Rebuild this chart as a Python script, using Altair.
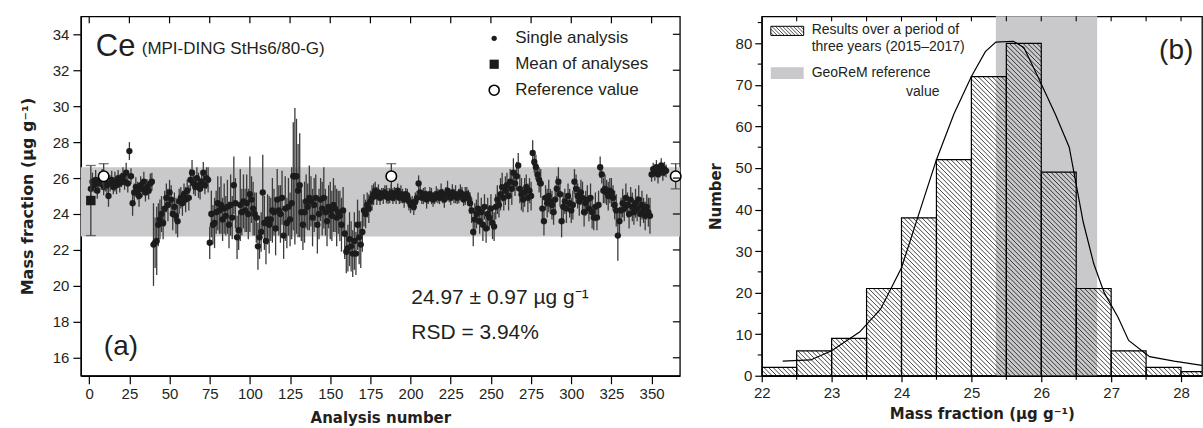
import altair as alt
import pandas as pd
import numpy as np

# ---------------- Panel (a): Ce in MPI-DING StHs6/80-G ----------------
analysis_values = [
    25.4, 25.8, 25.6, 25.9, 25.3, 25.7, 25.9, 26.0, 25.5, 25.8,
    25.6, 25.0, 25.7, 25.9, 25.5, 25.8, 25.6, 26.0, 25.7, 25.9,
    26.1, 25.8, 26.3, 25.7, 27.5, 26.1, 24.6, 25.2, 25.5, 25.3,
    25.0, 25.6, 25.4, 25.8, 25.2, 25.5, 25.3, 25.7, 25.8, 22.3,
    22.4, 22.5, 23.4, 23.7, 24.0, 23.5, 24.3, 24.9, 24.5, 25.2,
    24.8, 24.0, 24.4, 23.9, 23.6, 24.7, 24.9, 24.6, 25.1, 24.8,
    25.3, 24.9, 25.9, 26.3, 25.7, 25.5, 26.0, 25.6, 25.4, 25.8,
    26.3, 25.6, 26.0, 25.9, 22.4, 24.0, 23.4, 23.5, 24.1, 24.6,
    24.2, 24.5, 23.7, 24.3, 23.9, 24.4, 23.4, 24.5, 23.8, 25.6,
    24.6, 22.7, 23.1, 24.5, 24.1, 24.7, 24.2, 24.6, 24.0, 25.1,
    24.8, 24.3, 24.0, 23.8, 22.2, 22.7, 23.0, 25.2, 23.5, 22.5,
    23.7, 23.4, 23.7, 24.2, 24.1, 23.2, 24.8, 24.2, 24.0, 24.9,
    22.8, 24.3, 23.5, 24.4, 23.7, 24.6, 26.1, 26.1, 26.1, 25.3,
    25.6, 24.1, 23.4, 24.1, 24.7, 24.4, 24.9, 24.7, 23.8, 24.5,
    24.9, 23.4, 24.0, 24.8, 24.3, 24.9, 24.1, 23.6, 24.4, 24.2,
    23.9, 24.5, 24.3, 23.8, 24.1, 23.9, 23.4, 24.2, 22.9, 21.9,
    22.1, 22.6, 22.2, 21.8, 22.5, 21.8, 23.4, 22.7, 22.3, 23.0,
    24.2, 24.0, 24.5, 24.3, 24.7, 24.9, 25.1, 25.3, 25.0, 25.2,
    24.9, 25.1, 25.0, 25.2, 25.1, 24.9, 25.0, 25.2, 24.9, 25.1,
    25.0, 25.3, 24.9, 25.1, 25.0, 24.8, 25.1, 25.0, 24.7, 24.5,
    24.6, 24.4, 24.7, 24.9, 25.7, 25.2, 24.9, 25.0, 25.1, 24.8,
    24.9, 25.1, 25.0, 24.8, 24.9, 25.1, 25.0, 24.9, 25.2, 25.0,
    24.8, 25.1, 25.3, 25.0, 24.9, 25.2, 25.0, 25.1, 24.9, 25.0,
    25.2, 25.1, 24.8, 25.0, 25.1, 24.9, 24.6, 24.2, 23.0, 23.7,
    24.0, 24.3, 23.6, 24.1, 23.4, 24.4, 23.2, 24.0, 23.8, 24.3,
    23.5, 23.3, 24.4, 24.8, 24.5, 25.1, 25.5, 24.9, 25.3, 25.6,
    25.0, 25.8, 25.4, 26.3, 25.7, 26.1, 26.7, 25.4, 25.1, 24.8,
    25.2, 25.5, 24.9, 25.3, 25.0, 27.4, 26.9, 26.6, 26.2, 25.9,
    25.7, 24.3, 23.6, 24.9, 24.6, 25.0, 24.7, 24.5, 24.1, 24.8,
    25.4, 25.8, 25.1, 23.6, 24.4, 24.7, 24.3, 25.0, 24.6, 24.2,
    24.5, 25.8, 25.4, 25.0, 24.7, 25.2, 24.9, 24.1, 24.6, 24.8,
    24.3, 24.9, 24.1, 23.8, 24.4, 23.8, 24.5, 26.6, 26.2, 25.3,
    25.4, 25.2, 25.0, 25.3, 25.2, 24.9, 24.5, 24.2, 22.8, 23.6,
    24.2, 24.6, 24.3, 24.9, 24.5, 24.0, 24.8, 24.4, 24.1, 24.6,
    24.3, 24.8, 24.0, 24.5, 24.2, 23.9, 24.4, 24.1, 23.9, 26.2,
    26.5, 26.3, 26.6, 26.2, 26.4, 26.7, 26.3, 26.5, 26.4,
]
analysis_errors = [
    0.45, 0.5, 0.4, 0.55, 0.45, 0.5, 0.4, 0.5, 0.45, 0.55,
    0.5, 0.6, 0.45, 0.5, 0.4, 0.55, 0.5, 0.45, 0.5, 0.4,
    0.5, 0.45, 0.55, 0.5, 0.5, 0.45, 0.7, 0.5, 0.55, 0.5,
    0.6, 0.5, 0.45, 0.55, 0.5, 0.45, 0.5, 0.55, 0.5, 2.3,
    1.4, 1.9, 1.2, 1.1, 1.0, 0.9, 1.0, 0.8, 0.9, 0.7,
    0.8, 0.9, 0.8, 1.0, 0.9, 0.7, 0.6, 0.7, 0.6, 0.7,
    0.6, 0.7, 0.6, 0.7, 0.6, 0.5, 0.6, 0.7, 0.6, 0.5,
    0.6, 0.5, 0.6, 0.7, 0.9, 1.3, 1.1, 1.4, 1.2, 1.5,
    1.3, 1.6, 1.2, 1.4, 1.1, 1.5, 1.3, 1.7, 1.2, 1.6,
    1.4, 1.2, 1.1, 2.0, 1.3, 1.5, 1.2, 1.6, 1.4, 2.1,
    1.3, 1.5, 1.2, 1.4, 1.3, 1.2, 1.1, 2.1, 1.5, 1.3,
    1.4, 1.6, 1.2, 1.8, 1.3, 1.5, 1.7, 1.4, 1.6, 1.5,
    1.3, 1.8, 1.4, 1.6, 1.5, 2.0, 3.0, 3.8, 3.2, 2.6,
    2.9, 1.6, 1.4, 1.7, 1.5, 1.3, 1.8, 1.4, 1.6, 1.5,
    1.3, 1.6, 1.4, 1.2, 1.5, 1.7, 1.3, 1.4, 1.2, 1.6,
    1.4, 1.5, 1.3, 1.6, 1.2, 1.4, 1.5, 1.3, 1.4, 1.2,
    1.3, 1.5, 1.4, 1.3, 1.6, 1.2, 1.4, 1.5, 1.3, 1.1,
    0.9, 0.8, 0.7, 0.8, 0.6, 0.7, 0.6, 0.5, 0.5, 0.45,
    0.4, 0.35, 0.45, 0.4, 0.5, 0.35, 0.4, 0.45, 0.35, 0.4,
    0.45, 0.4, 0.35, 0.5, 0.4, 0.45, 0.35, 0.4, 0.5, 0.45,
    0.4, 0.45, 0.5, 0.4, 0.45, 0.4, 0.35, 0.45, 0.4, 0.5,
    0.35, 0.4, 0.45, 0.4, 0.35, 0.45, 0.4, 0.35, 0.5, 0.4,
    0.45, 0.4, 0.55, 0.35, 0.4, 0.45, 0.4, 0.5, 0.35, 0.4,
    0.45, 0.4, 0.35, 0.5, 0.4, 0.45, 0.6, 0.7, 0.8, 0.9,
    0.8, 0.9, 0.7, 0.8, 0.9, 0.7, 0.8, 0.9, 0.7, 0.8,
    0.9, 0.8, 0.7, 0.8, 0.7, 0.9, 0.8, 0.7, 0.8, 0.7,
    0.8, 0.7, 0.9, 0.8, 0.7, 0.8, 0.7, 0.8, 0.9, 0.7,
    0.8, 0.7, 0.8, 0.7, 0.8, 0.7, 0.6, 0.7, 0.6, 0.7,
    0.8, 0.7, 0.8, 0.7, 0.8, 0.9, 0.7, 0.8, 0.7, 0.8,
    0.7, 0.8, 0.7, 0.9, 0.8, 0.7, 0.8, 0.7, 0.8, 0.7,
    0.8, 0.7, 0.8, 0.7, 0.8, 0.7, 0.9, 0.8, 0.7, 0.8,
    0.7, 0.8, 0.9, 0.7, 0.8, 0.7, 0.8, 0.6, 0.5, 0.7,
    0.8, 0.7, 0.8, 0.7, 0.8, 0.7, 0.8, 0.9, 1.4, 0.8,
    0.7, 0.8, 0.7, 0.8, 0.7, 0.8, 0.7, 0.8, 0.7, 0.8,
    0.7, 0.8, 0.7, 0.8, 0.7, 0.8, 0.7, 0.8, 1.0, 0.4,
    0.35, 0.45, 0.4, 0.5, 0.35, 0.4, 0.45, 0.4, 0.35,
]
mean_position = [1]
mean_value = [24.75]
mean_error = [1.95]
reference_positions = [9, 188, 365]
reference_values = [26.1, 26.1, 26.1]
reference_errors = [0.7, 0.7, 0.7]
band_a = [22.75, 26.6]
x_ticks_a = [0, 25, 50, 75, 100, 125, 150, 175, 200, 225, 250, 275, 300, 325, 350]
y_ticks_a = [16, 18, 20, 22, 24, 26, 28, 30, 32, 34]
legend_a = ["Single analysis", "Mean of analyses", "Reference value"]
stat_lines = ["24.97 \u00b1 0.97 \u00b5g g\u207b\u00b9", "RSD = 3.94%"]

# ---------------- Panel (b): histogram ----------------
bin_starts = [22.0, 22.5, 23.0, 23.5, 24.0, 24.5, 25.0, 25.5, 26.0, 26.5, 27.0, 27.5, 28.0]
bin_counts = [2, 6, 9, 21, 38, 52, 72, 80, 49, 21, 6, 2, 1]
bin_width = 0.5
curve_x = [22.3, 22.7, 23.0, 23.4, 23.7, 24.0, 24.25, 24.5, 24.75, 25.0, 25.2, 25.35,
           25.6, 25.75, 25.95, 26.2, 26.4, 26.6, 26.75, 26.9, 27.1, 27.25, 27.55, 27.9, 28.3]
curve_y = [3.5, 3.8, 6.0, 10.5, 16.0, 26.0, 39.0, 52.0, 63.0, 72.0, 78.0, 80.3,
           80.5, 79.0, 72.0, 63.0, 55.0, 37.0, 27.0, 20.0, 14.0, 8.5, 4.6, 3.5, 2.5]
georem_band = [25.35, 26.8]
x_ticks_b = [22, 23, 24, 25, 26, 27, 28]
x_minor_b = [22.5, 23.5, 24.5, 25.5, 26.5, 27.5]
x_top_b = [22.5, 23, 23.5, 24, 24.5, 25, 25.5, 26, 26.5, 27, 27.5, 28]
y_ticks_b = [0, 10, 20, 30, 40, 50, 60, 70, 80]
y_minor_b = [5, 15, 25, 35, 45, 55, 65, 75, 85]
legend_b = ["Results over a period of", "three years (2015\u20132017)", "GeoReM reference", "value"]

# ---------------- layout constants ----------------
WA, HA = 600, 360
WB, HB = 441, 360
XA_DOM = [-5.2, 367.6]
YA_DOM = [15, 35]
XB_DOM = [22, 28.3]
YB_DOM = [0, 86.5]
LABEL_FONT = "Liberation Sans"
TITLE_FONT = "DejaVu Sans"
INK = "#231f20"
GREY = "#c9c9cb"

xa = alt.Scale(domain=XA_DOM, nice=False, zero=False)
ya = alt.Scale(domain=YA_DOM, nice=False, zero=False)
xb = alt.Scale(domain=XB_DOM, nice=False, zero=False)
yb = alt.Scale(domain=YB_DOM, nice=False, zero=False)

n = len(analysis_values)
df_a = pd.DataFrame({
    "n": list(range(1, n + 1)),
    "v": analysis_values,
    "lo": [v - e for v, e in zip(analysis_values, analysis_errors)],
    "hi": [v + e for v, e in zip(analysis_values, analysis_errors)],
})
df_mean = pd.DataFrame({"n": mean_position, "v": mean_value,
                        "lo": [mean_value[0] - mean_error[0]], "hi": [mean_value[0] + mean_error[0]]})
df_ref = pd.DataFrame({"n": reference_positions, "v": reference_values,
                       "lo": [v - e for v, e in zip(reference_values, reference_errors)],
                       "hi": [v + e for v, e in zip(reference_values, reference_errors)]})
df_band_a = pd.DataFrame({"n": [XA_DOM[0]], "n2": [XA_DOM[1]], "v": [band_a[0]], "hi": [band_a[1]]})

axis_common = dict(grid=False, domainColor="black", domainWidth=1.3, tickColor="black", tickWidth=1.2,
                   labelFont=LABEL_FONT, labelFontSize=15, labelColor=INK, labelOverlap=False,
                   titleFont=TITLE_FONT, titleFontWeight="bold", titleColor=INK)

X_a = alt.X("n:Q", scale=xa, axis=alt.Axis(values=x_ticks_a, tickCount=len(x_ticks_a), tickSize=8,
                                           labelPadding=3, format="d",
                                           title="Analysis number", titlePadding=9, titleFontSize=15,
                                           **axis_common))
Y_a = alt.Y("v:Q", scale=ya, axis=alt.Axis(values=y_ticks_a, tickCount=len(y_ticks_a), tickSize=8,
                                           labelPadding=4, format="d",
                                           title="Mass fraction (\u00b5g g\u207b\u00b9)", titlePadding=17,
                                           titleFontSize=16, **axis_common))

band_layer = alt.Chart(df_band_a).mark_rect(color=GREY).encode(x=X_a, x2="n2:Q", y=Y_a, y2="hi:Q")

err_layer = alt.Chart(df_a).mark_rule(color="#3b3b3b", strokeWidth=1.3).encode(
    x=alt.X("n:Q", scale=xa), y=alt.Y("lo:Q", scale=ya), y2="hi:Q")

pts_layer = alt.Chart(df_a).mark_circle(size=40, color="#1c1c1c", opacity=1).encode(
    x=alt.X("n:Q", scale=xa), y=alt.Y("v:Q", scale=ya))

mean_err = alt.Chart(df_mean).mark_rule(color="#3b3b3b", strokeWidth=1.3).encode(
    x=alt.X("n:Q", scale=xa), y=alt.Y("lo:Q", scale=ya), y2="hi:Q")
mean_cap_lo = alt.Chart(df_mean).mark_tick(orient="horizontal", size=10, thickness=1.3, color="#3b3b3b").encode(
    x=alt.X("n:Q", scale=xa), y=alt.Y("lo:Q", scale=ya))
mean_cap_hi = alt.Chart(df_mean).mark_tick(orient="horizontal", size=10, thickness=1.3, color="#3b3b3b").encode(
    x=alt.X("n:Q", scale=xa), y=alt.Y("hi:Q", scale=ya))
mean_pt = alt.Chart(df_mean).mark_square(size=90, color="#1c1c1c", opacity=1).encode(
    x=alt.X("n:Q", scale=xa), y=alt.Y("v:Q", scale=ya))

ref_err = alt.Chart(df_ref).mark_rule(color="#3b3b3b", strokeWidth=1.3).encode(
    x=alt.X("n:Q", scale=xa), y=alt.Y("lo:Q", scale=ya), y2="hi:Q")
ref_cap_lo = alt.Chart(df_ref).mark_tick(orient="horizontal", size=10, thickness=1.3, color="#3b3b3b").encode(
    x=alt.X("n:Q", scale=xa), y=alt.Y("lo:Q", scale=ya))
ref_cap_hi = alt.Chart(df_ref).mark_tick(orient="horizontal", size=10, thickness=1.3, color="#3b3b3b").encode(
    x=alt.X("n:Q", scale=xa), y=alt.Y("hi:Q", scale=ya))
ref_pt = alt.Chart(df_ref).mark_point(shape="circle", size=110, filled=True, fill="white",
                                      stroke="black", strokeWidth=1.6, opacity=1).encode(
    x=alt.X("n:Q", scale=xa), y=alt.Y("v:Q", scale=ya))

# mirror ticks on top and right frame (pointing inward)
top_ticks_a = alt.Chart(pd.DataFrame({"n": x_ticks_a})).mark_rule(color="black", strokeWidth=1.2).encode(
    x=alt.X("n:Q", scale=xa), y=alt.value(0), y2=alt.value(7))
right_ticks_a = alt.Chart(pd.DataFrame({"v": y_ticks_a})).mark_rule(color="black", strokeWidth=1.2).encode(
    y=alt.Y("v:Q", scale=ya), x=alt.value(WA), x2=alt.value(WA - 7))

one = pd.DataFrame({"k": [0]})


def txt(s, x, y, size, align="left", baseline="middle", font=LABEL_FONT, weight="normal"):
    return alt.Chart(one).mark_text(text=s, align=align, baseline=baseline, font=font, fontSize=size,
                                    fontWeight=weight, color=INK).encode(x=alt.value(x), y=alt.value(y))


leg_a = [
    alt.Chart(one).mark_circle(size=28, color="#1c1c1c", opacity=1).encode(x=alt.value(414), y=alt.value(22)),
    alt.Chart(one).mark_square(size=85, color="#1c1c1c", opacity=1).encode(x=alt.value(414), y=alt.value(48)),
    alt.Chart(one).mark_point(shape="circle", size=100, filled=True, fill="white", stroke="black",
                              strokeWidth=1.6, opacity=1).encode(x=alt.value(414), y=alt.value(74)),
    txt(legend_a[0], 435, 22, 17),
    txt(legend_a[1], 435, 48, 17),
    txt(legend_a[2], 435, 74, 17),
    txt("Ce", 15, 40, 31, baseline="alphabetic"),
    txt("(MPI-DING StHs6/80-G)", 61, 38, 17, baseline="alphabetic"),
    txt(stat_lines[0], 331, 288, 21, baseline="alphabetic"),
    txt(stat_lines[1], 331, 323, 21, baseline="alphabetic"),
    txt("(a)", 23, 339, 28, baseline="alphabetic"),
]

panel_a = alt.layer(band_layer, err_layer, pts_layer, mean_err, mean_cap_lo, mean_cap_hi, mean_pt,
                    ref_err, ref_cap_lo, ref_cap_hi, ref_pt, top_ticks_a, right_ticks_a, *leg_a
                    ).properties(width=WA, height=HA)

# ---------------- panel (b) construction ----------------
PXU = WB / (XB_DOM[1] - XB_DOM[0])
PYU = HB / (YB_DOM[1] - YB_DOM[0])


def hatch(x0, x1, c0, c1, spacing=4.6):
    """Diagonal '\\' hatch segments inside a data-space rectangle."""
    X0 = (x0 - XB_DOM[0]) * PXU
    X1 = min((x1 - XB_DOM[0]) * PXU, WB)
    Yt = (YB_DOM[1] - c1) * PYU
    Yb = (YB_DOM[1] - c0) * PYU
    segs = []
    k = np.floor((Yt - X1) / spacing) * spacing
    while k < Yb - X0:
        xs = max(X0, Yt - k)
        xe = min(X1, Yb - k)
        if xe - xs > 0.4:
            segs.append((XB_DOM[0] + xs / PXU, YB_DOM[1] - (xs + k) / PYU,
                         XB_DOM[0] + xe / PXU, YB_DOM[1] - (xe + k) / PYU))
        k += spacing
    return segs


df_bins = pd.DataFrame({"x0": bin_starts, "x1": [b + bin_width for b in bin_starts],
                        "c": bin_counts, "base": [0] * len(bin_counts)})
segs = []
for b, c in zip(bin_starts, bin_counts):
    segs += hatch(b, b + bin_width, 0, c)
df_hatch = pd.DataFrame(segs, columns=["hx0", "hy0", "hx1", "hy1"])

leg_box = [22.13, 22.60, 81.9, 84.1]
leg_grey = [22.13, 22.60, 71.4, 74.25]
df_leg_hatch = pd.DataFrame(hatch(leg_box[0], leg_box[1], leg_box[2], leg_box[3], spacing=3.6),
                            columns=["hx0", "hy0", "hx1", "hy1"])

X_b = alt.X("x0:Q", scale=xb, axis=alt.Axis(values=x_ticks_b, tickCount=len(x_ticks_b), tickSize=6,
                                            labelPadding=4, format="d",
                                            title="Mass fraction (\u00b5g g\u207b\u00b9)", titlePadding=6,
                                            titleFontSize=15, **axis_common))
Y_b = alt.Y("c:Q", scale=yb, axis=alt.Axis(values=y_ticks_b, tickCount=len(y_ticks_b), tickSize=7,
                                           labelPadding=3, format="d",
                                           title="Number", titlePadding=12, titleFontSize=15, **axis_common))

georem = alt.Chart(pd.DataFrame({"lo": [georem_band[0]], "hi": [georem_band[1]]})).mark_rect(color=GREY).encode(
    x=alt.X("lo:Q", scale=xb), x2="hi:Q", y=alt.value(0), y2=alt.value(HB))
bars = alt.Chart(df_bins).mark_rect(fillOpacity=0, stroke="black", strokeWidth=1.2, clip=True).encode(
    x=X_b, x2="x1:Q", y=Y_b, y2="base:Q")
hatch_layer = alt.Chart(df_hatch).mark_rule(color="black", strokeWidth=0.75, clip=True).encode(
    x=alt.X("hx0:Q", scale=xb), x2="hx1:Q", y=alt.Y("hy0:Q", scale=yb), y2="hy1:Q")
curve = alt.Chart(pd.DataFrame({"cx": curve_x, "cy": curve_y})).mark_line(
    color="black", strokeWidth=1.2, clip=True).encode(
    x=alt.X("cx:Q", scale=xb), y=alt.Y("cy:Q", scale=yb))

minor_y = alt.Chart(pd.DataFrame({"t": y_minor_b})).mark_rule(color="black", strokeWidth=1.1).encode(
    y=alt.Y("t:Q", scale=yb), x=alt.value(-4), x2=alt.value(0))
minor_x = alt.Chart(pd.DataFrame({"t": x_minor_b})).mark_rule(color="black", strokeWidth=1.1).encode(
    x=alt.X("t:Q", scale=xb), y=alt.value(HB), y2=alt.value(HB + 4))
top_b = alt.Chart(pd.DataFrame({"t": x_top_b})).mark_rule(color="black", strokeWidth=1.1).encode(
    x=alt.X("t:Q", scale=xb), y=alt.value(0), y2=alt.value(5))

leg_b_box = alt.Chart(pd.DataFrame({"a": [leg_box[0]], "b": [leg_box[1]], "c": [leg_box[2]], "d": [leg_box[3]]})
                      ).mark_rect(fill="white", stroke="black", strokeWidth=1).encode(
    x=alt.X("a:Q", scale=xb), x2="b:Q", y=alt.Y("c:Q", scale=yb), y2="d:Q")
leg_b_hatch = alt.Chart(df_leg_hatch).mark_rule(color="black", strokeWidth=0.7).encode(
    x=alt.X("hx0:Q", scale=xb), x2="hx1:Q", y=alt.Y("hy0:Q", scale=yb), y2="hy1:Q")
leg_b_grey = alt.Chart(pd.DataFrame({"a": [leg_grey[0]], "b": [leg_grey[1]], "c": [leg_grey[2]], "d": [leg_grey[3]]})
                       ).mark_rect(color=GREY).encode(
    x=alt.X("a:Q", scale=xb), x2="b:Q", y=alt.Y("c:Q", scale=yb), y2="d:Q")

texts_b = [
    txt(legend_b[0], 50, 14, 14),
    txt(legend_b[1], 50, 31, 14),
    txt(legend_b[2], 50, 57, 14),
    txt(legend_b[3], 178, 76, 14, align="right"),
    txt("(b)", 398, 43, 28, baseline="alphabetic"),
]

panel_b = alt.layer(georem, bars, hatch_layer, curve, minor_y, minor_x, top_b,
                    leg_b_box, leg_b_hatch, leg_b_grey, *texts_b).properties(width=WB, height=HB)

chart = alt.hconcat(panel_a, panel_b, spacing=22).properties(
    padding={"left": 18, "top": 14, "right": 0, "bottom": 0},
    background="white",
).configure_view(stroke="black", strokeWidth=1.3).configure_axis(labelFlush=False, labelOverlap=False)

chart.save("out.html", embed_options={"renderer": "svg", "actions": False})
